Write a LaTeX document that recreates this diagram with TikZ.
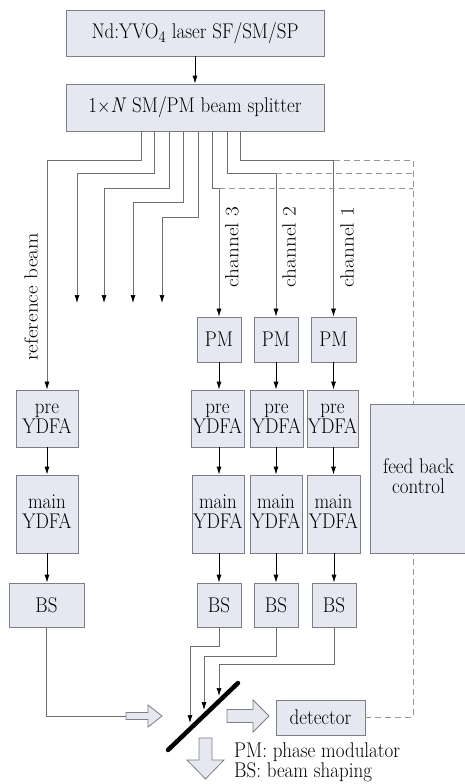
\documentclass[tikz,border=0pt]{standalone}
\usepackage{graphicx}
\usetikzlibrary{arrows.meta,calc}
\definecolor{boxfill}{RGB}{229,232,241}
\definecolor{boxline}{RGB}{125,125,135}
\definecolor{wire}{RGB}{110,110,110}
\definecolor{dashc}{RGB}{150,150,150}
\newcommand\hs[1]{\scalebox{1}[1.12]{#1}}
\newcommand\vs[1]{\scalebox{1.12}[1]{#1}}
\newcommand\two[2]{\scalebox{1}[1.12]{\begin{tabular}{@{}c@{}}#1\\[-3pt]#2\end{tabular}}}
\begin{document}
\begin{tikzpicture}[x=1pt,y=-1pt,
  font=\fontsize{19}{21}\selectfont,
  box/.style={draw=boxline,fill=boxfill,line width=0.8pt,inner sep=0pt},
  conn/.style={draw=wire,line width=0.7pt},
  arr/.style={-{Latex[length=8pt,width=5pt,color=black]}},
  flow/.style={draw=black,line width=0.8pt,-{Latex[length=8pt,width=5pt]}},
  dashline/.style={draw=dashc,line width=0.8pt,dash pattern=on 6pt off 4pt},
  hollow/.style={draw=boxline,fill=boxfill,line width=0.8pt,line join=miter},
  mirror/.style={draw=black,line width=4.5pt,line cap=round}]
\useasboundingbox (0,0) rectangle (465,784);

% top boxes
\node[box,minimum width=258pt,minimum height=46pt] (laser) at (195,33) {\hs{Nd:YVO$_4$ laser SF/SM/SP}};
\node[box,minimum width=258pt,minimum height=47pt] (split) at (195,107.5) {\hs{1$\times$\textit{N} SM/PM beam splitter}};
\draw[flow] (laser.south) -- (split.north);

% reference chain
\node[box,minimum width=62pt,minimum height=57pt] (refpre) at (47,418.5) {\two{pre}{YDFA}};
\node[box,minimum width=62pt,minimum height=78pt] (refmain) at (47,514) {\two{main}{YDFA}};
\node[box,minimum width=75pt,minimum height=44pt] (refbs) at (46.5,605) {\hs{BS}};

% channel boxes
\node[box,minimum width=44pt,minimum height=45pt] (pm3) at (219,339.5) {\hs{PM}};
\node[box,minimum width=44pt,minimum height=45pt] (pm2) at (276,339.5) {\hs{PM}};
\node[box,minimum width=45pt,minimum height=45pt] (pm1) at (333.5,339.5) {\hs{PM}};
\node[box,minimum width=53pt,minimum height=57pt] (pre3) at (217.5,418.5) {\two{pre}{YDFA}};
\node[box,minimum width=53pt,minimum height=57pt] (pre2) at (276.5,418.5) {\two{pre}{YDFA}};
\node[box,minimum width=51pt,minimum height=57pt] (pre1) at (332.5,418.5) {\two{pre}{YDFA}};
\node[box,minimum width=52pt,minimum height=78pt] (main3) at (218,514) {\two{main}{YDFA}};
\node[box,minimum width=52pt,minimum height=78pt] (main2) at (276,514) {\two{main}{YDFA}};
\node[box,minimum width=53pt,minimum height=78pt] (main1) at (333.5,514) {\two{main}{YDFA}};
\node[box,minimum width=44pt,minimum height=44pt] (bs3) at (219,605) {\hs{BS}};
\node[box,minimum width=44pt,minimum height=44pt] (bs2) at (276,605) {\hs{BS}};
\node[box,minimum width=44pt,minimum height=44pt] (bs1) at (334,605) {\hs{BS}};

\node[box,minimum width=97pt,minimum height=149pt] (fb) at (418.5,478.5) {\two{feed back}{control}};
\node[box,minimum width=89pt,minimum height=35pt] (det) at (320.5,717.5) {\hs{detector}};

% vertical flow arrows
\draw[flow] (refpre.south) -- (refmain.north);
\draw[flow] (refmain.south) -- (refmain.south |- refbs.north);
\draw[flow] (pm3.south) -- (pm3.south |- pre3.north);
\draw[flow] (pm2.south) -- (pm2.south |- pre2.north);
\draw[flow] (pm1.south) -- (pm1.south |- pre1.north);
\draw[flow] (pm3.south |- pre3.south) -- (pm3.south |- main3.north);
\draw[flow] (pm2.south |- pre2.south) -- (pm2.south |- main2.north);
\draw[flow] (pm1.south |- pre1.south) -- (pm1.south |- main1.north);
\draw[flow] (bs3.north |- main3.south) -- (bs3.north);
\draw[flow] (bs2.north |- main2.south) -- (bs2.north);
\draw[flow] (bs1.north |- main1.south) -- (bs1.north);

% fan-out from splitter
\coordinate (o1) at (141,0);
\coordinate (o2) at (154,0);
\coordinate (o3) at (169,0);
\coordinate (o4) at (183,0);
\coordinate (o5) at (198,0);
\coordinate (o6) at (212,0);
\coordinate (o7) at (227,0);
\coordinate (o8) at (240,0);
\coordinate (e2) at (77,303);
\coordinate (e3) at (104,303);
\coordinate (e4) at (133,303);
\coordinate (e5) at (162,303);
\draw[conn,arr] (split.south -| o1) -- ++(0,29) -| (refpre.north);
\draw[conn,arr] (split.south -| o2) -- ++(0,42) -| (e2);
\draw[conn,arr] (split.south -| o3) -- ++(0,57) -| (e3);
\draw[conn,arr] (split.south -| o4) -- ++(0,71) -| (e4);
\draw[conn,arr] (split.south -| o5) -- ++(0,86) -| (e5);
\draw[conn,arr] (split.south -| o6) -- ++(0,57) -| (pm3.north);
\draw[conn,arr] (split.south -| o7) -- ++(0,42) -| (pm2.north);
\draw[conn,arr] (split.south -| o8) -- ++(0,29) -| (pm1.north);

% labels
\node[rotate=90] (lref) at (31,297) {\vs{reference beam}};
\node[rotate=90] (lc3) at (232,247) {\vs{channel 3}};
\node[rotate=90] (lc2) at (289,247) {\vs{channel 2}};
\node[rotate=90] (lc1) at (347,247) {\vs{channel 1}};

% dashed feedback lines
\coordinate (q) at (413,0);
\coordinate (k1) at (333.5,160);
\coordinate (k2) at (276,173);
\coordinate (k3) at (219,188);
\draw[dashline] (k1) -- (k1 -| q) -- (fb.north -| q);
\draw[dashline] (k2) -- (k2 -| q);
\draw[dashline] (k3) -- (k3 -| q);
\draw[dashline] (det.east) -| (fb.south -| q);

% mirror
\coordinate (m1) at (168,750);
\coordinate (m2) at (238,683);
\draw[mirror] (m1) -- (m2);

% beams onto mirror
\coordinate (t3) at (190,723);
\coordinate (t2) at (204,710);
\coordinate (t1) at (219,696);
\draw[conn,arr] (bs3.south) -- ++(0,19) -| (t3);
\draw[conn,arr] (bs2.south) -- ++(0,29) -| (t2);
\draw[conn,arr] (bs1.south) -- ++(0,37) -| (t1);

% reference beam to small hollow arrow
\coordinate (sa) at (126,716);
\draw[conn] (refbs.south) |- (sa);
\draw[hollow] (126,712.5) -- (148,712.5) -- (148,705) -- (162,716) -- (148,727) -- (148,719.5) -- (126,719.5) -- cycle;

% big hollow arrows
\draw[hollow] (227,709.5) -- (253,709.5) -- (253,700) -- (269,716) -- (253,732) -- (253,722.5) -- (227,722.5) -- cycle;
\draw[hollow] (199,738) -- (212,738) -- (212,760) -- (224,760) -- (205.5,779) -- (187,760) -- (199,760) -- cycle;

% legend
\node[anchor=west,inner sep=0pt] (leg1) at (234,752) {\hs{PM: phase modulator}};
\node[anchor=west,inner sep=0pt] (leg2) at (234,772.5) {\hs{BS: beam shaping}};
\end{tikzpicture}
\end{document}
